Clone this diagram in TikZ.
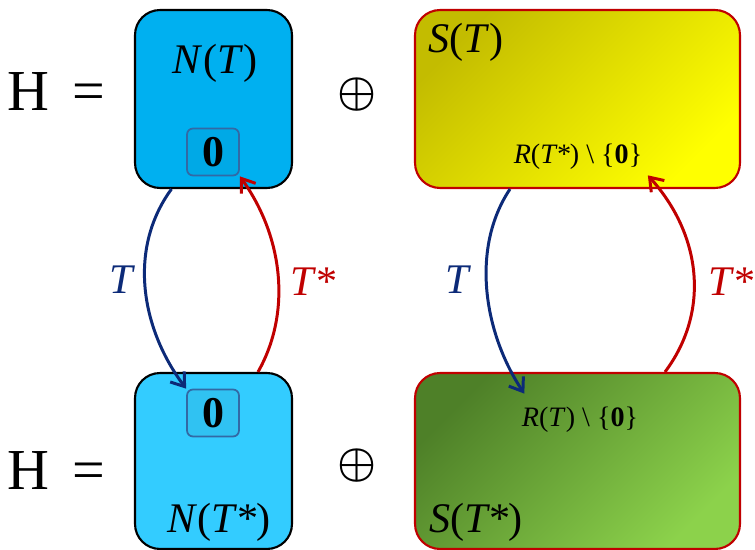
\documentclass[tikz,border=0pt]{standalone}
\usepackage{fontspec}
\setmainfont{Liberation Serif}
\usepackage{xcolor}
\definecolor{blue3}{RGB}{12,42,120}
\definecolor{red3}{RGB}{192,0,0}
\definecolor{cyan3}{RGB}{0,176,240}
\definecolor{cyan4}{RGB}{51,204,255}
\definecolor{zeroline}{RGB}{50,105,165}
\definecolor{yellowdark}{RGB}{195,188,0}
\definecolor{yellowlight}{RGB}{255,255,0}
\definecolor{greendark}{RGB}{78,128,40}
\definecolor{greenlight}{RGB}{140,210,75}
\usetikzlibrary{arrows.meta, calc}
\newcommand{\bigfont}{\fontsize{24}{24}\selectfont}

\begin{document}
\begin{tikzpicture}[x=0.02cm, y=-0.02cm, >={Straight Barb[length=7pt, width=10pt]},
  kernel/.style={draw=black, line width=1.2pt, rounded corners=0.5cm,
    minimum width=3.14cm, inner sep=0pt},
  comp/.style={draw=red3, line width=1.2pt, rounded corners=0.5cm,
    minimum width=6.5cm, inner sep=0pt, shading angle=45},
  zerobox/.style={draw=zeroline, line width=1pt, rounded corners=0.12cm,
    minimum width=1.04cm, minimum height=0.94cm, inner sep=0pt,
    font=\fontsize{25}{25}\selectfont\bfseries},
  map/.style={->, line width=1.7pt},
  lbl/.style={font=\bigfont},
  plus/.style={font=\fontsize{32}{32}\selectfont\boldmath}]
  \useasboundingbox (0,0) rectangle (755,550);

  % Top row: H = N(T) + S(T)
  \node[font=\fontsize{33}{33}\selectfont] (hTop) at (56,92) {H\hspace{0.4em}=};
  \node[kernel, fill=cyan3, minimum height=3.56cm] (nT) at (213.5,99) {};
  \node[zerobox, fill=cyan3!96!black] (zeroT) at (213,152) {0};
  \node[lbl] (nTtext) at (215,63) {\textit{N}(\textit{T})};
  \node[plus] (plusTop) at (357,95) {$\oplus$};
  \node[comp, top color=yellowdark, bottom color=yellowlight, shading angle=45,
    minimum height=3.56cm] (sT) at (577.5,99) {};
  \node[lbl] (sTtext) at (466,42) {\textit{S}(\textit{T})};
  \node[font=\fontsize{16}{16}\selectfont, inner sep=3pt] (rTs) at (578,157)
    {\textit{R}(\textit{T*}) \textbackslash\ \{\textbf{0}\}};

  % Bottom row: H = N(T*) + S(T*)
  \node[font=\fontsize{33}{33}\selectfont] (hBot) at (56,471) {H\hspace{0.4em}=};
  \node[kernel, fill=cyan4, minimum height=3.52cm] (nTs) at (213.5,461) {};
  \node[zerobox, fill=cyan4!95!black] (zeroTs) at (213,413) {0};
  \node[lbl] (nTstext) at (219,522) {\textit{N}(\textit{T*})};
  \node[plus] (plusBot) at (357,466) {$\oplus$};
  \node[comp, top color=greendark, bottom color=greenlight, shading angle=45,
    minimum height=3.52cm] (sTs) at (577.5,461) {};
  \node[lbl] (sTstext) at (476,522) {\textit{S}(\textit{T*})};
  \node[font=\fontsize{16}{16}\selectfont, inner sep=3pt] (rT) at (580,420)
    {\textit{R}(\textit{T}) \textbackslash\ \{\textbf{0}\}};

  % Maps between kernels
  \draw[map, blue3] ($(nT.south)+(-42,0)$) .. controls +(-44,60) and +(-45,-60) .. (zeroTs.north west);
  \draw[map, red3] ($(nTs.north)+(44.5,0)$) .. controls +(34,-60) and +(43,60) .. (zeroT.south east);
  \node[lbl, blue3] (tLeft) at (122,280) {\textit{T}};
  \node[lbl, red3] (tsLeft) at (313,282) {\textit{T*}};

  % Maps between complements
  \draw[map, blue3] ($(sT.south)+(-67.5,0)$) .. controls +(-40,60) and +(-40,-60) .. ($(rT.north west)+(8,-8)$);
  \draw[map, red3] ($(sTs.north)+(87.5,0)$) .. controls +(45,-60) and +(54,60) .. (rTs.south east);
  \node[lbl, blue3] (tRight) at (458,280) {\textit{T}};
  \node[lbl, red3] (tsRight) at (731,282) {\textit{T*}};
\end{tikzpicture}
\end{document}
